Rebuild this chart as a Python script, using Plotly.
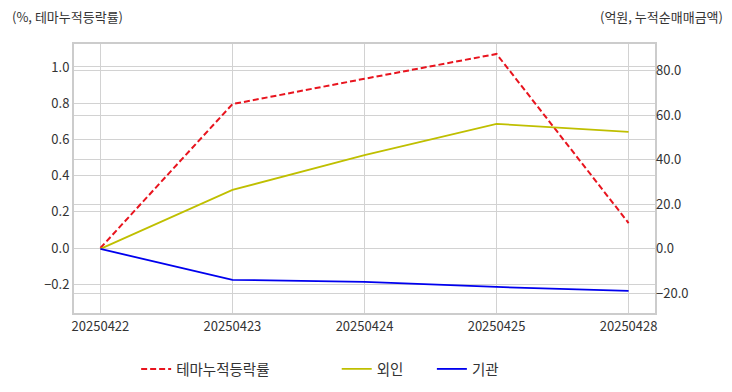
import plotly.graph_objects as go

dates = ["20250422", "20250423", "20250424", "20250425", "20250428"]
theme_ret = [0.0, 0.795, 0.935, 1.072, 0.138]
foreign = [0.0, 26.5, 42.2, 56.2, 52.6]
institution = [0.0, -13.9, -14.8, -17.1, -18.9]

FONT = "Noto Sans CJK KR"
fig = go.Figure()
fig.add_trace(go.Scatter(x=dates, y=theme_ret, name="테마누적등락률", mode="lines",
                         line=dict(color="#e8141e", width=2, dash="6px,3px"), yaxis="y",
                         legend="legend"))
fig.add_trace(go.Scatter(x=dates, y=foreign, name="외인", mode="lines",
                         line=dict(color="#bfbf00", width=1.8), yaxis="y2",
                         legend="legend2"))
fig.add_trace(go.Scatter(x=dates, y=institution, name="기관", mode="lines",
                         line=dict(color="#0000ee", width=1.8), yaxis="y2",
                         legend="legend3"))

leg_common = dict(orientation="h", xanchor="left", yanchor="middle", y=0.0587,
                  xref="container", yref="container",
                  font=dict(size=14.5, color="#333333"), bgcolor="rgba(0,0,0,0)")

fig.update_layout(
    width=732, height=392,
    margin=dict(l=74, r=77, t=44, b=79),
    paper_bgcolor="white", plot_bgcolor="white",
    font=dict(family=FONT, size=13, color="#444444"),
    xaxis=dict(type="category", range=[-0.2, 4.2], showgrid=True, gridcolor="#d2d2d2",
               showline=True, linecolor="#cccccc", linewidth=2, mirror=True,
               ticks="", tickfont=dict(size=13, color="#333333"), zeroline=False),
    yaxis=dict(range=[-0.359, 1.127], tickvals=[-0.2, 0, 0.2, 0.4, 0.6, 0.8, 1.0],
               tickformat=".1f", showgrid=True, gridcolor="#d2d2d2", zeroline=False,
               showline=True, linecolor="#cccccc", linewidth=2, mirror=True,
               tickfont=dict(size=13, color="#333333"), ticks=""),
    yaxis2=dict(range=[-28.8, 92.1], tickvals=[-20, 0, 20, 40, 60, 80], tickformat=".1f",
                overlaying="y", side="right", showgrid=True, gridcolor="#d2d2d2",
                zeroline=False, showline=False,
                tickfont=dict(size=13, color="#333333")),
    legend=dict(x=0.186, **leg_common),
    legend2=dict(x=0.460, **leg_common),
    legend3=dict(x=0.590, **leg_common),
    showlegend=True,
    annotations=[
        dict(text="(%, 테마누적등락률)", xref="paper", yref="paper", x=-0.110, y=1.104,
             xanchor="left", yanchor="middle", showarrow=False,
             font=dict(size=13, color="#333333")),
        dict(text="(억원, 누적순매매금액)", xref="paper", yref="paper", x=1.121, y=1.104,
             xanchor="right", yanchor="middle", showarrow=False,
             font=dict(size=13, color="#333333")),
    ],
)
fig.write_html("out.html", config={"displayModeBar": False},
               post_script="document.body.style.margin='0';")
